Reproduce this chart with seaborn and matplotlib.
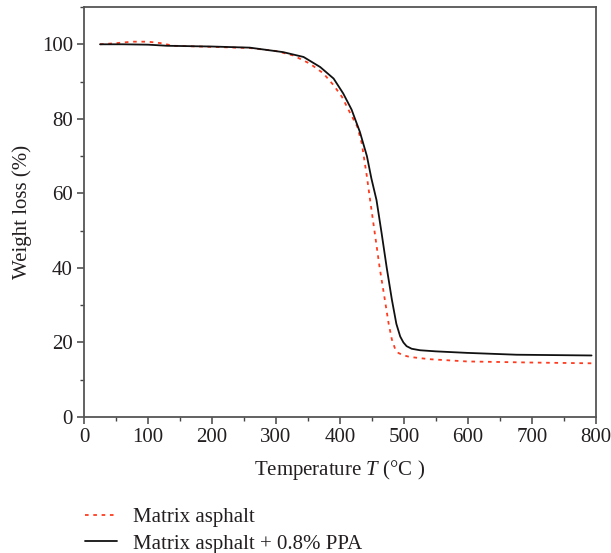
import matplotlib
matplotlib.use("Agg")
import matplotlib.pyplot as plt
from matplotlib.ticker import MultipleLocator
import seaborn as sns
import pandas as pd

# Data
t_matrix = [25, 50, 75, 100, 120, 140, 200, 259, 300, 327, 353, 374, 390, 403, 413,
            427, 434, 442, 447, 455, 462, 470, 476, 481, 486, 491, 498, 509, 540,
            598, 700, 793]
w_matrix = [100, 100.3, 100.7, 100.7, 100.3, 99.6, 99.3, 99.0, 98.2, 97.0, 94.8,
            92.2, 89.0, 85.9, 82.5, 77.9, 73.4, 64.5, 58.2, 48.5, 40.0, 31.5, 25.0,
            20.8, 18.3, 17.2, 16.6, 16.1, 15.5, 14.9, 14.6, 14.4]

t_ppa = [25, 60, 100, 130, 200, 259, 311, 343, 369, 390, 405, 418, 431, 442, 449,
         457, 465, 473, 481, 488, 494, 499, 504, 512, 525, 550, 598, 676, 793]
w_ppa = [100, 100, 99.9, 99.6, 99.4, 99.1, 97.9, 96.6, 93.9, 90.8, 86.8, 82.5, 76.5,
         70.0, 64.0, 58.2, 49.3, 40.0, 31.5, 25.0, 21.6, 20.0, 19.0, 18.3, 17.9,
         17.6, 17.2, 16.7, 16.5]

labels = ["Matrix asphalt", "Matrix asphalt + 0.8% PPA"]
x_ticks = [0, 100, 200, 300, 400, 500, 600, 700, 800]
y_ticks = [0, 20, 40, 60, 80, 100]

sns.set_theme(style="white")
plt.rcParams["font.family"] = ["Liberation Serif", "DejaVu Serif"]
plt.rcParams["mathtext.fontset"] = "custom"
plt.rcParams["mathtext.it"] = "Liberation Serif:italic"
plt.rcParams["mathtext.rm"] = "Liberation Serif"

txt = "#231f20"
fs = 15
fig = plt.figure(figsize=(6.11, 5.53), dpi=100)
ax = fig.add_axes([0.1375, 0.246, 0.838, 0.7413])

df_m = pd.DataFrame({"T": t_matrix, "W": w_matrix})
df_p = pd.DataFrame({"T": t_ppa, "W": w_ppa})

sns.lineplot(data=df_m, x="T", y="W", ax=ax, color="#ff3b1f", lw=1.3,
             linestyle=(0, (2.0, 2.6)), label=labels[0], legend=False)
sns.lineplot(data=df_p, x="T", y="W", ax=ax, color="#111111", lw=1.3,
             label=labels[1], legend=False)

ax.set_xlim(0, 800)
ax.set_ylim(0, 110)
ax.set_xticks(x_ticks)
ax.set_yticks(y_ticks)
ax.xaxis.set_minor_locator(MultipleLocator(50))
ax.yaxis.set_minor_locator(MultipleLocator(10))
ax.tick_params(axis="both", which="major", direction="out", length=5, width=1.1,
               color="#444444", labelsize=fs, labelcolor=txt, pad=3,
               bottom=True, left=True, top=False, right=False)
ax.tick_params(axis="both", which="minor", direction="out", length=2.8, width=1.0,
               color="#444444", bottom=True, left=True, top=False, right=False)
for s in ax.spines.values():
    s.set_color("#555555")
    s.set_linewidth(1.3)

ax.set_xlabel("Temperature $\\mathit{T}$ (°C )", fontsize=fs, color=txt, labelpad=8)
ax.set_ylabel("Weight loss (%)", fontsize=fs, color=txt, labelpad=7)

handles, lbls = ax.get_legend_handles_labels()
fig.legend(handles, lbls, loc="upper left", bbox_to_anchor=(0.139, 0.082),
           bbox_transform=fig.transFigure, frameon=False, fontsize=fs,
           handlelength=1.55, handletextpad=0.75, labelspacing=0.33,
           borderpad=0, borderaxespad=0, labelcolor=txt)

fig.savefig("out.png", dpi=100)
